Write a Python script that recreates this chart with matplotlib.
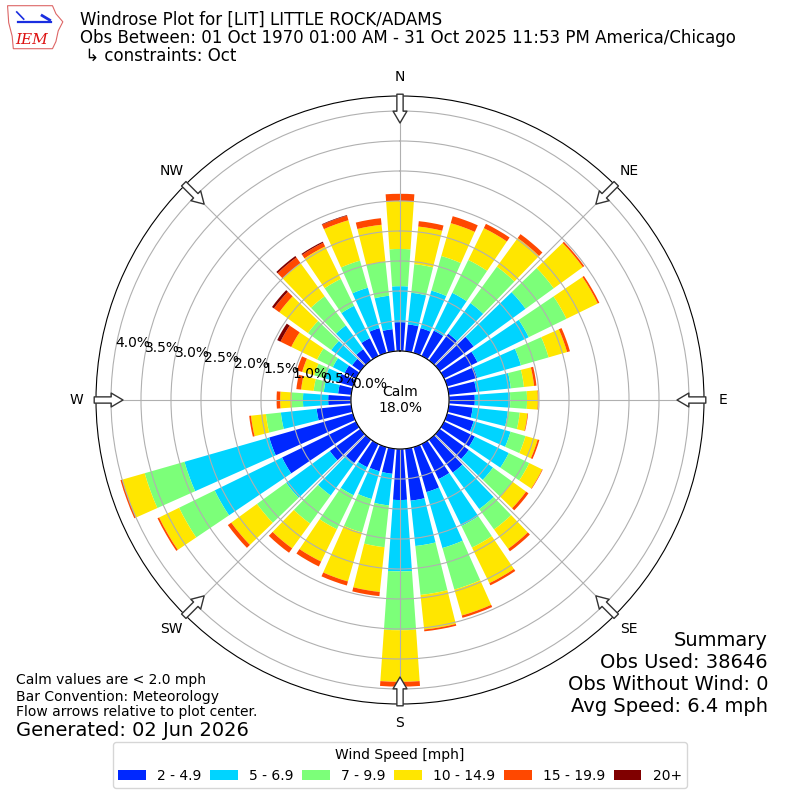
import matplotlib
matplotlib.use("Agg")
import matplotlib.pyplot as plt
import numpy as np
from matplotlib.patches import Patch, Polygon

# direction bins (deg, meteorological: where the wind blows from)
DIRECTIONS = list(range(0, 360, 10))
COMPASS = ["N", "NE", "E", "SE", "S", "SW", "W", "NW"]
BIN_LABELS = ["2 - 4.9", "5 - 6.9", "7 - 9.9", "10 - 14.9", "15 - 19.9", "20+"]
COLORS = ["#0028ff", "#00d4ff", "#7cff79", "#ffe600", "#ff4800", "#800000"]
RING_PCT = [0.0, 0.5, 1.0, 1.5, 2.0, 2.5, 3.0, 3.5, 4.0]

# percent of obs in each speed bin, one value per direction (0, 10, ... 350)
SPD_2_5 = [0.48, 0.45, 0.43, 0.47, 0.55, 0.70, 0.62, 0.52, 0.46, 0.43, 0.40, 0.46,
           0.57, 0.60, 0.68, 0.65, 0.78, 0.87, 0.85, 0.42, 0.42, 0.43, 0.48, 0.63,
           1.37, 1.45, 0.58, 0.38, 0.22, 0.25, 0.21, 0.17, 0.23, 0.33, 0.43, 0.37]
SPD_5_7 = [0.60, 0.53, 0.65, 0.70, 0.63, 1.07, 0.95, 0.76, 0.58, 0.59, 0.59, 0.64,
           0.63, 0.50, 0.75, 0.87, 0.97, 0.76, 1.19, 0.53, 0.48, 0.52, 0.67, 0.90,
           1.25, 1.47, 0.60, 0.42, 0.24, 0.23, 0.22, 0.43, 0.49, 0.60, 0.70, 0.56]
SPD_7_10 = [0.62, 0.48, 0.60, 0.61, 0.75, 0.58, 0.70, 0.48, 0.22, 0.28, 0.20, 0.26,
            0.38, 0.40, 0.42, 0.40, 0.72, 0.82, 0.98, 0.70, 0.58, 0.63, 0.58, 0.60,
            0.66, 0.69, 0.25, 0.19, 0.17, 0.19, 0.29, 0.48, 0.60, 0.50, 0.47, 0.57]
SPD_10_15 = [0.80, 0.63, 0.57, 0.59, 0.59, 0.60, 0.58, 0.32, 0.17, 0.18, 0.13, 0.21,
             0.24, 0.28, 0.40, 0.66, 0.45, 0.58, 0.86, 0.75, 0.85, 0.60, 0.51, 0.53,
             0.37, 0.39, 0.25, 0.19, 0.21, 0.21, 0.48, 0.59, 0.68, 0.60, 0.70, 0.62]
SPD_15_20 = [0.12, 0.09, 0.12, 0.08, 0.08, 0.03, 0.03, 0.05, 0.04, 0.01, 0.01, 0.03,
             0.01, 0.05, 0.05, 0.04, 0.04, 0.03, 0.08, 0.07, 0.07, 0.09, 0.09, 0.07,
             0.03, 0.03, 0.03, 0.06, 0.08, 0.09, 0.20, 0.11, 0.12, 0.07, 0.08, 0.11]
SPD_20_UP = [0, 0, 0, 0, 0, 0, 0, 0, 0, 0, 0, 0,
             0, 0, 0, 0, 0, 0, 0, 0, 0, 0, 0, 0,
             0, 0, 0, 0, 0, 0, 0.06, 0.04, 0.03, 0.02, 0.01, 0]
SPEED_PCT = [SPD_2_5, SPD_5_7, SPD_7_10, SPD_10_15, SPD_15_20, SPD_20_UP]

CALM_PCT = 18.0
RMAX = 4.25
R_ORIGIN = -0.817  # leaves room for the calm circle

fig = plt.figure(figsize=(8, 8), dpi=100)
ax = fig.add_axes([0.12, 0.12, 0.76, 0.76], projection="polar")
ax.set_theta_zero_location("N")
ax.set_theta_direction(-1)
ax.set_ylim(0, RMAX)
ax.set_rorigin(R_ORIGIN)

theta = np.radians(DIRECTIONS)
bottom = np.zeros(len(DIRECTIONS))
for vals, color, label in zip(SPEED_PCT, COLORS, BIN_LABELS):
    vals = np.asarray(vals)
    ax.bar(theta, vals, width=np.radians(8), bottom=bottom, color=color,
           edgecolor="none", label=label, zorder=1)
    bottom += vals

ax.grid(color="#b0b0b0", lw=0.8)
ax.set_xticks(np.radians(np.arange(0, 360, 45)))
ax.set_xticklabels(COMPASS, fontsize=10)
ax.tick_params(axis="x", pad=3.5)
ax.set_rgrids(RING_PCT, labels=[f"{v:.1f}%" for v in RING_PCT], angle=280, fontsize=10)
ax.text(0.5, 0.5, f"Calm\n{CALM_PCT:.1f}%", transform=ax.transAxes, ha="center",
        va="center", fontsize=10)

# hollow flow arrows at the 8 compass points
for ang in np.radians(np.arange(0, 360, 45)):
    ax.annotate("", xy=(ang, 3.80), xytext=(ang, 4.28), annotation_clip=False,
                arrowprops=dict(arrowstyle="simple,head_length=0.85,head_width=1.0,tail_width=0.45",
                                mutation_scale=10, fc="white", ec="#333333", lw=1.0,
                                shrinkA=0, shrinkB=0, clip_on=False))

# header
fig.text(0.10, 0.975, "Windrose Plot for [LIT] LITTLE ROCK/ADAMS", fontsize=12, va="center")
fig.text(0.10, 0.9525, "Obs Between: 01 Oct 1970 01:00 AM - 31 Oct 2025 11:53 PM America/Chicago",
         fontsize=12, va="center")
fig.text(0.10, 0.930, " \u21b3 constraints: Oct", fontsize=12, va="center")

# rough IEM logo
lg = fig.add_axes([0.008, 0.938, 0.072, 0.056])
lg.set_xlim(0, 1); lg.set_ylim(0, 1); lg.axis("off")
lg.add_patch(Polygon([(0.02, 0.98), (0.80, 0.98), (0.86, 0.80), (0.98, 0.62), (0.90, 0.42),
                      (0.86, 0.18), (0.80, 0.02), (0.12, 0.02), (0.10, 0.30), (0.04, 0.60)],
                     closed=True, fill=False, ec="#d66", lw=0.8))
lg.plot([0.20, 0.78], [0.62, 0.62], color="#1a2ee0", lw=1.6)
lg.plot([0.18, 0.30], [0.84, 0.68], color="#1a2ee0", lw=1.2)
lg.plot([0.62, 0.75], [0.76, 0.66], color="#1a2ee0", lw=2.0)
lg.text(0.44, 0.22, "IEM", color="#d11", fontsize=11, family="DejaVu Serif",
        style="italic", ha="center", va="center")

# notes
for y, s in [(0.150, "Calm values are < 2.0 mph"), (0.129, "Bar Convention: Meteorology"),
             (0.110, "Flow arrows relative to plot center.")]:
    fig.text(0.02, y, s, fontsize=10, va="center")
fig.text(0.02, 0.0875, "Generated: 02 Jun 2026", fontsize=14, va="center")

for y, s in [(0.200, "Summary"), (0.1725, "Obs Used: 38646"),
             (0.145, "Obs Without Wind: 0"), (0.1175, "Avg Speed: 6.4 mph")]:
    fig.text(0.96, y, s, fontsize=14, ha="right", va="center")

handles = [Patch(facecolor=c, edgecolor="none") for c in COLORS]
fig.legend(handles, BIN_LABELS, title="Wind Speed [mph]", ncol=6, loc="lower center",
           bbox_to_anchor=(0.5, 0.006), fontsize=10, title_fontsize=10,
           columnspacing=0.62)

fig.savefig("out.png", dpi=100)
